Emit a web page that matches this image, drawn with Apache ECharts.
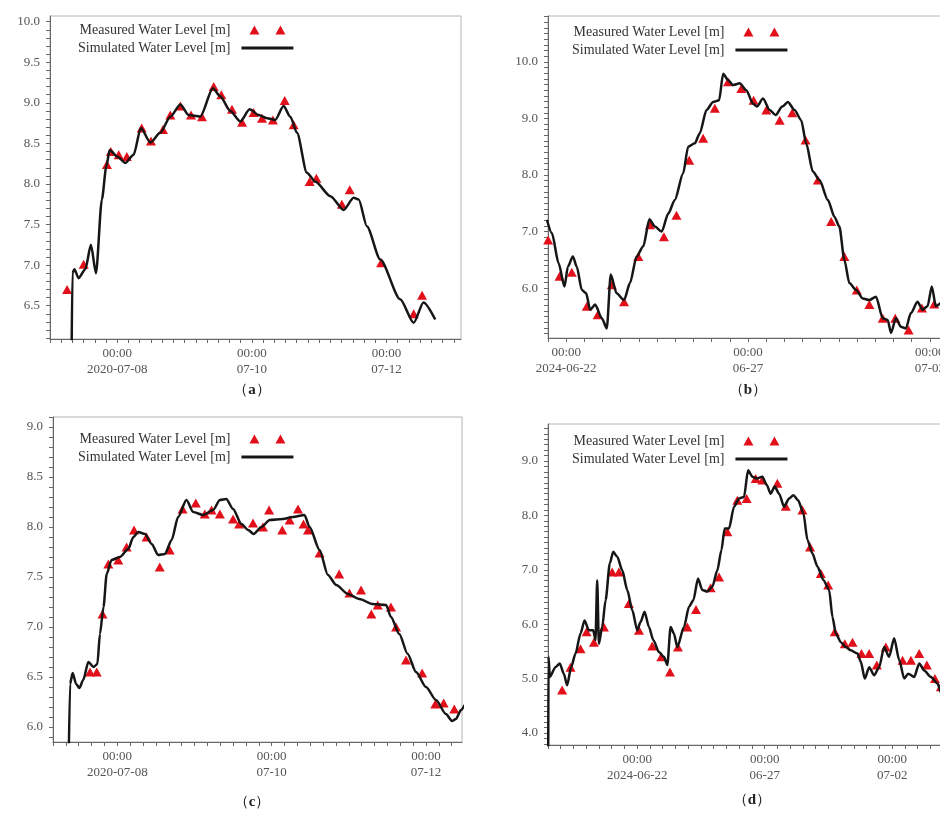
<!DOCTYPE html>
<html>
<head>
<meta charset="utf-8">
<title>Water Level</title>
<script src="https://cdn.jsdelivr.net/npm/echarts@6/dist/echarts.min.js"></script>
<style>
html,body{margin:0;padding:0;background:#fff;}
#main{width:940px;height:815px;}
</style>
</head>
<body>
<div id="main"></div>
<script>
// 时间 = 相对基准日 00:00 的小时数
var baseA='2020-07-08 00:00';
var simA_h=[-16.3,-16.0,-15.3,-13.8,-11.4,-9.4,-7.6,-5.5,-3.9,-2.7,-0.1,2.9,5.8,8.4,11.8,15.3,18.9,22.5,25.4,29.6,34.1,36.7,40.3,43.9,47.2,50.4,53.4,56.3,59.3,61.7,64.1,67.6,70.6,76.0,80.7,84.3,86.1,89.0,93.8,100.9,105.7,109.2,113.4];
var simA_v=[5.9,6.9,6.95,6.84,6.95,7.25,6.90,7.81,8.22,8.42,8.34,8.26,8.36,8.69,8.51,8.63,8.83,8.98,8.85,8.83,9.18,9.08,8.90,8.77,8.92,8.85,8.81,8.79,8.96,8.83,8.63,8.14,8.03,7.85,7.68,7.83,7.81,7.48,7.07,6.58,6.29,6.54,6.33];
var measA_h=[-17.9,-12.0,-3.7,-2.3,0.5,3.4,8.7,12.0,16.3,18.9,22.5,26.3,30.2,34.4,37.1,40.9,44.5,48.6,51.6,55.5,59.7,62.9,68.6,71.0,80.1,82.9,94.1,105.7,108.7];
var measA_v=[6.70,7.01,8.24,8.40,8.36,8.34,8.69,8.53,8.67,8.85,8.96,8.85,8.83,9.20,9.10,8.92,8.76,8.88,8.81,8.79,9.03,8.73,8.03,8.07,7.75,7.93,7.03,6.40,6.63];

var baseB='2024-06-22 00:00';
var simB_h=[-12.7,-9.4,-5.0,-1.1,1.1,4.4,7.0,10.3,13.2,15.8,19.1,23.5,26.8,29.4,33.3,38.2,42.1,46.5,50.9,54.9,58.6,63.0,67.4,71.7,77.2,80.5,84.9,88.2,92.6,97.0,100.9,103.6,106.8,110.1,114.5,118.9,123.3,125.9,129.9,134.3,138.2,142.6,146.3,150.7,155.1,158.4,162.8,167.2,172.7,177.1,180.3,183.6,186.9,191.3,195.7,200.1,204.5,208.9,212.2,214.4,217.6,220.9,224.2,227.5,231.9,235.2,238.5,241.3,244.0,248.0,252.0];
var simB_v=[7.21,6.97,6.44,6.03,6.38,6.56,6.38,5.97,5.91,5.62,5.71,5.47,5.29,6.24,5.91,5.79,6.09,6.56,6.74,7.22,7.09,7.00,7.32,7.56,8.03,8.50,8.56,8.74,9.15,9.29,9.32,9.79,9.68,9.59,9.62,9.50,9.26,9.21,9.35,9.15,9.06,9.21,9.29,9.15,8.97,8.56,8.06,7.91,7.56,7.26,7.09,6.50,6.09,5.97,5.82,5.79,5.85,5.47,5.44,5.21,5.47,5.32,5.29,5.56,5.76,5.62,5.68,6.03,5.68,5.75,5.8];
var measB_h=[-11.9,-4.4,3.7,13.6,20.8,30.1,38.2,47.6,55.3,64.5,72.8,81.2,90.4,98.1,106.8,115.6,123.7,132.1,140.9,149.2,158.0,166.1,174.9,183.6,191.8,200.1,208.9,217.2,226.0,234.8,242.9];
var measB_v=[6.85,6.21,6.28,5.68,5.53,6.06,5.76,6.56,7.12,6.91,7.29,8.26,8.65,9.18,9.65,9.53,9.32,9.15,8.97,9.10,8.62,7.91,7.18,6.56,5.97,5.71,5.47,5.47,5.26,5.65,5.72];

var baseC='2020-07-08 00:00';
var simC_h=[-15.2,-14.7,-13.9,-12.8,-11.8,-10.6,-9.0,-7.4,-6.2,-5.4,-4.3,-3.3,-1.8,0.8,3.4,5.0,6.5,8.6,10.7,12.7,14.8,16.9,18.9,21.5,23.6,26.7,29.8,31.9,33.9,36.0,38.6,40.7,42.4,44.8,47.4,51.5,54.6,58.2,59.8,62.9,65.5,68.1,71.7,75.3,79.4,83.6,85.1,87.7,90.3,92.9,96.0,99.1,102.2,104.1,105.3,106.9,108];
var simC_v=[5.5,6.43,6.54,6.43,6.39,6.47,6.65,6.60,6.63,6.93,7.20,7.53,7.67,7.70,7.78,7.90,7.95,7.93,7.83,7.72,7.73,7.87,8.10,8.27,8.15,8.12,8.17,8.27,8.28,8.18,8.03,7.97,7.93,8.00,8.07,8.08,8.10,8.12,8.00,7.77,7.52,7.42,7.33,7.28,7.23,7.22,7.10,6.93,6.73,6.55,6.40,6.27,6.13,6.06,6.08,6.17,6.22];
var measC_h=[-8.5,-6.4,-4.6,-2.8,0.3,2.9,5.2,9.1,13.2,16.3,20.3,24.4,27.2,29.3,31.9,36.0,37.9,42.2,45.3,47.2,51.3,53.6,56.2,57.9,59.3,62.9,69.0,72.2,75.8,79.0,81.0,85.1,86.7,89.8,94.8,98.9,101.5,104.8];
var measC_v=[6.55,6.55,7.13,7.63,7.67,7.80,7.97,7.90,7.60,7.77,8.18,8.24,8.13,8.17,8.13,8.08,8.03,8.04,8.00,8.17,7.97,8.07,8.18,8.03,7.97,7.74,7.53,7.34,7.37,7.13,7.22,7.20,7.00,6.67,6.54,6.23,6.24,6.18];

var baseD='2024-06-22 00:00';
var simD_h=[-83.8,-83.5,-82.3,-77.0,-72.9,-69.1,-66.0,-62.2,-58.1,-53.4,-49.6,-45.5,-41.5,-39.3,-37.7,-36.1,-33.0,-29.8,-25.8,-22.6,-18.8,-14.1,-9.4,-4.7,0,3.1,6.9,11.0,15.1,20.4,25.1,28.3,31.4,34.5,37.7,44.0,48.7,52.8,57.2,61.2,66.0,70.7,75.4,79.2,82.3,86.4,91.1,95.8,100.5,104.3,108.4,112.4,117.8,121.9,125.6,129.4,133.5,138.2,142.9,147.0,151.4,156.4,160.2,164.9,169.6,175.3,180.6,183.8,186.9,191.6,196.3,201.0,207.3,210.4,214.2,218.3,223.0,227.7,232.4,237.1,241.8,246.6,251.3,255.0,260.7,265.4,270.1,276.4,282.7,285.8,292];
var simD_v=[3.6,5.4,5.03,5.21,5.28,5.09,4.88,5.21,5.46,5.83,6.07,5.89,5.89,5.71,6.81,5.64,5.95,6.44,7.12,7.33,7.24,6.99,6.63,6.26,5.89,6.04,6.23,5.95,5.71,5.49,5.40,5.25,5.95,5.83,5.58,5.95,6.32,6.44,6.84,6.63,6.60,6.69,6.99,7.36,7.76,7.76,8.16,8.31,8.34,8.83,8.71,8.68,8.71,8.56,8.40,8.53,8.40,8.16,8.31,8.37,8.28,8.04,7.55,7.30,7.06,6.81,6.63,6.13,5.83,5.67,5.58,5.52,5.46,5.31,5.00,5.21,5.06,5.21,5.58,5.40,5.74,5.34,5.00,5.09,5.03,5.28,5.15,5.03,4.91,4.75,4.55];
var measD_h=[-70.7,-62.8,-53.4,-47.7,-40.8,-31.4,-23.6,-17.3,-7.9,1.6,14.1,22.6,30.8,38.3,47.1,55.3,69.1,77.0,84.8,94.2,103.0,111.5,117.8,131.9,139.8,155.5,162.7,172.8,179.7,185.9,195.4,202.6,211.1,218.3,225.5,234.0,249.7,257.6,265.4,272.6,280.2,285.8];
var measD_v=[4.79,5.21,5.55,5.86,5.67,5.95,6.96,6.96,6.38,5.89,5.60,5.40,5.12,5.58,5.95,6.27,6.67,6.87,7.70,8.28,8.31,8.68,8.65,8.59,8.17,8.10,7.42,6.93,6.72,5.86,5.64,5.67,5.46,5.46,5.25,5.58,5.34,5.34,5.46,5.25,5.00,4.85];

// 刻度标签
var xTickA=['2020-07-08 00:00','2020-07-10 00:00','2020-07-12 00:00'];
var xLabA=['00:00\n2020-07-08','00:00\n07-10','00:00\n07-12'];
var xTickB=['2024-06-22 00:00','2024-06-27 00:00','2024-07-02 00:00'];
var xLabB=['00:00\n2024-06-22','00:00\n06-27','00:00\n07-02'];
var yLabA=[6.5,7.0,7.5,8.0,8.5,9.0,9.5,10.0];
var yLabB=[6.0,7.0,8.0,9.0,10.0];
var yLabC=[6.0,6.5,7.0,7.5,8.0,8.5,9.0];
var yLabD=[4.0,5.0,6.0,7.0,8.0,9.0];

var NAME_MEAS='Measured Water Level [m]';
var NAME_SIM='Simulated Water Level [m]';
var RED='#e2101a', BLACK='#161616';
var SERIF='"Liberation Serif", "Times New Roman", serif';

function t(s){
	var p=s.split(/[- :]/);
	return Date.UTC(+p[0],p[1]-1,+p[2],+p[3],+p[4]);
}
function pairs(base,h,v){
	var b=t(base),arr=[];
	for(var i=0;i<h.length;i++){
		arr.push([b+h[i]*3600000,v[i]]);
	}
	return arr;
}
function steps(a,b,d){
	var arr=[];
	var k=Math.ceil(a/d-1e-9);
	while(k*d<=b+1e-9){
		arr.push(+(k*d).toFixed(4));
		k++;
	}
	return arr;
}

var panels=[
	{grid:{left:50,top:16,width:411,height:323},xMin:t('2020-07-07 00:00'),xMax:t('2020-07-13 02:35'),xStep:4,
	 xTicks:xTickA,xLabels:xLabA,yMin:6.09,yMax:10.07,yLabels:yLabA,
	 sim:pairs(baseA,simA_h,simA_v),meas:pairs(baseA,measA_h,measA_v),
	 legend:{left:78,top:23},cap:{x:252,y:390,l:'a'}},
	{grid:{left:548,top:16,width:400,height:322},xMin:t('2024-06-21 12:00'),xMax:t('2024-07-02 12:00'),xStep:12,
	 xTicks:xTickB,xLabels:xLabB,yMin:5.12,yMax:10.81,yLabels:yLabB,
	 sim:pairs(baseB,simB_h,simB_v),meas:pairs(baseB,measB_h,measB_v),
	 legend:{left:572,top:25},cap:{x:748,y:390,l:'b'}},
	{grid:{left:53,top:417,width:409,height:325},xMin:t('2020-07-07 04:00'),xMax:t('2020-07-12 11:12'),xStep:4,
	 xTicks:xTickA,xLabels:xLabA,yMin:5.85,yMax:9.1,yLabels:yLabC,
	 sim:pairs(baseC,simC_h,simC_v),meas:pairs(baseC,measC_h,measC_v),
	 legend:{left:78,top:432},cap:{x:252,y:802,l:'c'}},
	{grid:{left:548,top:424,width:400,height:321},xMin:t('2024-06-18 12:00'),xMax:t('2024-07-04 04:30'),xStep:12,
	 xTicks:xTickB,xLabels:xLabB,yMin:3.78,yMax:9.68,yLabels:yLabD,
	 sim:pairs(baseD,simD_h,simD_v),meas:pairs(baseD,measD_h,measD_v),
	 legend:{left:572,top:434},cap:{x:752,y:800,l:'d'}}
];

// 图例图标：两个三角 / 一条粗线
var triIcon='path://M0,0 M52,10 M8,9.5 L13,0.5 L18,9.5 Z M34,9.5 L39,0.5 L44,9.5 Z';
var lineIcon='path://M0,0 M52,10 M0,3.5 L52,3.5 L52,6.5 L0,6.5 Z';

var grids=[],xAxes=[],yAxes=[],legends=[],series=[],graphics=[];
panels.forEach(function(p,i){
	grids.push({left:p.grid.left,top:p.grid.top,width:p.grid.width,height:p.grid.height,
		show:true,borderColor:'#b4b4b4',borderWidth:1,backgroundColor:'transparent',
		containLabel:false,outerBoundsMode:'none'});
	var xt=p.xTicks.map(t);
	xAxes.push({
		type:'value',gridIndex:i,min:p.xMin,max:p.xMax,
		axisLine:{onZero:false,lineStyle:{color:'#666',width:1}},
		axisTick:{customValues:steps(p.xMin,p.xMax,p.xStep*3600000),length:4,lineStyle:{color:'#666'}},
		axisLabel:{customValues:xt,margin:7,color:'#555',fontFamily:SERIF,fontSize:13,lineHeight:16,
			formatter:function(v){
				var k=xt.indexOf(v);
				return k>=0?p.xLabels[k]:'';
			}},
		splitLine:{show:false}
	});
	yAxes.push({
		type:'value',gridIndex:i,min:p.yMin,max:p.yMax,
		axisLine:{onZero:false,lineStyle:{color:'#666',width:1}},
		axisTick:{customValues:steps(p.yMin,p.yMax,0.1),length:4,lineStyle:{color:'#666'}},
		axisLabel:{customValues:p.yLabels,margin:10,color:'#555',fontFamily:SERIF,fontSize:13,
			formatter:function(v){return v.toFixed(1);}},
		splitLine:{show:false}
	});
	legends.push({
		orient:'vertical',left:p.legend.left,top:p.legend.top,align:'right',padding:0,itemGap:4,
		itemWidth:52,itemHeight:10,selectedMode:false,
		textStyle:{fontFamily:SERIF,fontSize:14,color:'#333',padding:[0,6,0,0]},
		data:[
			{name:NAME_MEAS,icon:triIcon,itemStyle:{color:RED,borderWidth:0,opacity:1}},
			{name:NAME_SIM,icon:lineIcon,itemStyle:{color:BLACK,borderWidth:0,opacity:1}}
		]
	});
	series.push({
		type:'scatter',name:NAME_MEAS,xAxisIndex:i,yAxisIndex:i,data:p.meas,
		symbol:'triangle',symbolSize:[10,9],itemStyle:{color:RED,opacity:1},z:2
	});
	series.push({
		type:'line',name:NAME_SIM,xAxisIndex:i,yAxisIndex:i,data:p.sim,
		showSymbol:false,smooth:0.25,smoothMonotone:'x',
		lineStyle:{color:BLACK,width:2.5},itemStyle:{color:BLACK},z:3
	});
	graphics.push({
		type:'text',x:p.cap.x,y:p.cap.y,
		style:{text:'（{l|'+p.cap.l+'}）',align:'center',verticalAlign:'middle',
			font:'15px '+SERIF,fill:'#222',
			rich:{l:{fontWeight:'bold',fontSize:15,fontFamily:SERIF,fill:'#222'}}}
	});
});

var myChart=echarts.init(document.getElementById('main'));
var option={
	backgroundColor:'#fff',
	animation:false,
	grid:grids,
	xAxis:xAxes,
	yAxis:yAxes,
	legend:legends,
	series:series,
	graphic:graphics
};
myChart.setOption(option);
</script>
</body>
</html>
